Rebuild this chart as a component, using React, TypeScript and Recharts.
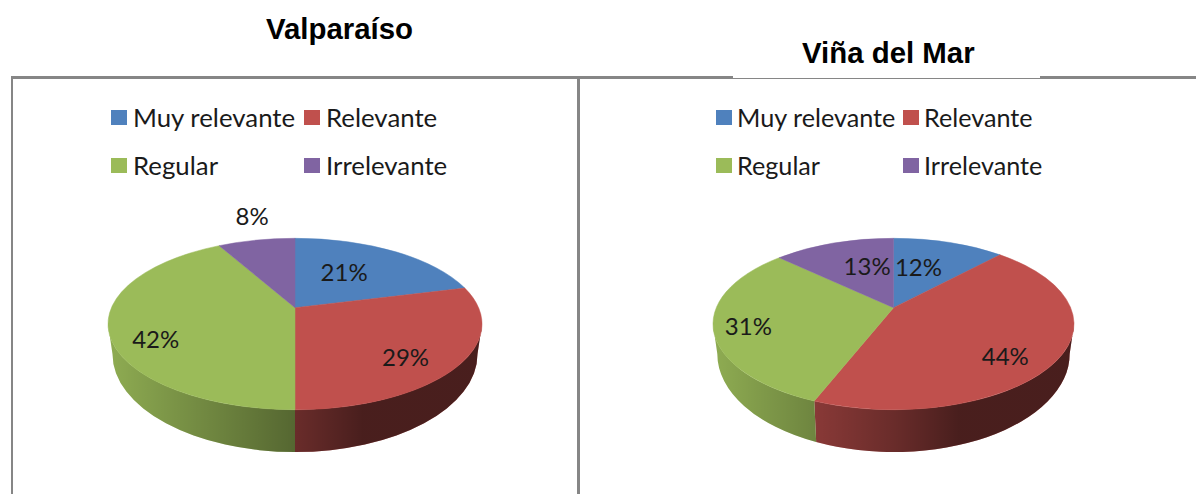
import { PieChart, Pie, Legend } from 'recharts';

const categories = ['Muy relevante', 'Relevante', 'Regular', 'Irrelevante'];
const valparaisoValues = [21, 29, 42, 8];
const vinaValues = [12, 44, 31, 13];
const colors = ['#4F81BD', '#C0504D', '#9BBB59', '#8064A2'];

// 3D look: vertical radius of the top face, apex pulled up (perspective), lower rim ellipse
const TOP_RY = 85.7;
const APEX = -0.19;
const BOTTOM_DROP = 30;
const BOTTOM_RX = 0.976;
const BOTTOM_RY = 1.144;

const rad = (d: number) => (d * Math.PI) / 180;

// point of the flat disc (u, v in -1..1, v down) -> position on the tilted ellipse
function project(u: number, v: number) {
  const d = 1 + APEX * v;
  return { x: (u * Math.sqrt(1 - APEX * APEX)) / d, y: (v + APEX) / d };
}

// clockwise degrees from the top of the flat disc -> clockwise degrees on the screen ellipse
function rimAngle(theta: number) {
  if (theta >= 359.99) return 360;
  if (theta <= 0.01) return 0;
  const p = project(Math.sin(rad(theta)), -Math.cos(rad(theta)));
  const a = (Math.atan2(p.x, -p.y) * 180) / Math.PI;
  return a < 0 ? a + 360 : a;
}

function Slice3D(props: any) {
  const { cx, cy, outerRadius, startAngle, endAngle, fill, index } = props;
  const rx = outerRadius;
  const ry = TOP_RY;
  const a0 = rimAngle(90 - startAngle);
  const a1 = rimAngle(90 - endAngle);
  const top = (a: number) => [cx + rx * Math.sin(rad(a)), cy - ry * Math.cos(rad(a))];
  const bottom = (a: number) => [
    cx + rx * BOTTOM_RX * Math.sin(rad(a)),
    cy + BOTTOM_DROP - ry * BOTTOM_RY * Math.cos(rad(a)),
  ];
  const [sx, sy] = top(a0);
  const [ex, ey] = top(a1);
  const apexY = cy + APEX * ry;
  const face = `M${cx},${apexY} L${sx},${sy} A${rx},${ry} 0 ${a1 - a0 > 180 ? 1 : 0} 1 ${ex},${ey} Z`;

  const w0 = Math.max(a0, 90);
  const w1 = Math.min(a1, 270);
  const gradId = `wall-${Math.round(cx)}-${index}`;
  let wall = null;
  if (w1 > w0) {
    const [tx0, ty0] = top(w0);
    const [tx1, ty1] = top(w1);
    const [bx0, by0] = bottom(w0);
    const [bx1, by1] = bottom(w1);
    const large = w1 - w0 > 180 ? 1 : 0;
    const d =
      `M${tx0},${ty0} A${rx},${ry} 0 ${large} 1 ${tx1},${ty1} L${bx1},${by1} ` +
      `A${rx * BOTTOM_RX},${ry * BOTTOM_RY} 0 ${large} 0 ${bx0},${by0} Z`;
    wall = (
      <>
        <defs>
          <linearGradient id={gradId} gradientUnits="userSpaceOnUse" x1={cx - rx} x2={cx + rx} y1={0} y2={0}>
            <stop offset="0" stopColor="#000" stopOpacity={0.08} />
            <stop offset="0.5" stopColor="#000" stopOpacity={0.45} />
            <stop offset="0.68" stopColor="#000" stopOpacity={0.62} />
            <stop offset="1" stopColor="#000" stopOpacity={0.62} />
          </linearGradient>
        </defs>
        <path d={d} fill={fill} />
        <path d={d} fill={`url(#${gradId})`} />
      </>
    );
  }
  return (
    <g>
      {wall}
      <path d={face} fill={fill} stroke={fill} strokeWidth={0.5} />
    </g>
  );
}

// where each percent label sits: fraction of radius along the slice, then a small nudge
const valparaisoLabels = [
  { f: 0.55, dx: -8, dy: -3 },
  { f: 0.7, dx: 0, dy: 10 },
  { f: 0.75, dx: -1, dy: 15 },
  { f: 1.2, dx: 2, dy: -14 },
];
const vinaLabels = [
  { f: 0.5, dx: -5, dy: -6 },
  { f: 0.7, dx: -1, dy: 14 },
  { f: 0.8, dx: -2, dy: 3 },
  { f: 0.5, dx: 6, dy: -7 },
];

function makeLabel(spots: { f: number; dx: number; dy: number }[]) {
  return function SliceLabel(props: any) {
    const { cx, cy, outerRadius, midAngle, index, value } = props;
    const s = spots[index];
    const theta = rad(90 - midAngle);
    const p = project(s.f * Math.sin(theta), -s.f * Math.cos(theta));
    return (
      <text
        x={cx + p.x * outerRadius + s.dx}
        y={cy + p.y * TOP_RY + s.dy}
        textAnchor="middle"
        dominantBaseline="central"
        fontFamily="Lato, sans-serif"
        fontSize={24}
        fill="#1a1a1a"
      >
        {value}%
      </text>
    );
  };
}

function makeLegend(col1: number, col2: number, textGap: number, fontSize: number) {
  return function PieLegend({ payload }: any) {
    return (
      <div style={{ position: 'relative', width: 500, height: 80, fontFamily: 'Lato, sans-serif', fontSize, color: '#1a1a1a' }}>
        {(payload || []).map((entry: any, i: number) => (
          <div
            key={entry.value}
            style={{
              position: 'absolute',
              left: i % 2 === 0 ? col1 : col2,
              top: i < 2 ? 0 : 48,
              height: 30,
              lineHeight: '30px',
              whiteSpace: 'nowrap',
            }}
          >
            <span style={{ position: 'absolute', left: 0, top: 8, width: 16, height: 15, background: entry.color }} />
            <span style={{ position: 'absolute', left: textGap, top: 0 }}>{entry.value}</span>
          </div>
        ))}
      </div>
    );
  };
}

function tableOf(values: number[]) {
  return categories.map((name, i) => ({ name, value: values[i], fill: colors[i] }));
}

function Panel({ values, left, width, cx, radius, labels, legend, legendLeft }: any) {
  const Shape = Slice3D;
  return (
    <div style={{ position: 'absolute', left, top: 79, width, height: 415 }}>
      <PieChart width={width} height={415} margin={{ top: 0, right: 0, bottom: 0, left: 0 }}>
        <Legend
          content={legend}
          itemSorter={null}
          wrapperStyle={{ left: legendLeft, top: 23, width: 500 }}
          verticalAlign="top"
          align="left"
        />
        {/* the legend reserves 80px at the top of the plot area, so cy counts from below it */}
        <Pie
          data={tableOf(values)}
          dataKey="value"
          nameKey="name"
          cx={cx}
          cy={165}
          innerRadius={0}
          outerRadius={radius}
          startAngle={90}
          endAngle={-270}
          stroke="none"
          label={makeLabel(labels)}
          labelLine={false}
          shape={Shape}
          activeShape={Shape}
          inactiveShape={Shape}
          isAnimationActive={false}
        />
      </PieChart>
    </div>
  );
}

const titleStyle = {
  position: 'absolute' as const,
  fontFamily: '"Liberation Sans", Arial, sans-serif',
  fontWeight: 700,
  fontSize: 29.4,
  color: '#000',
  lineHeight: '32px',
  whiteSpace: 'nowrap' as const,
};

export default function App() {
  return (
    <div style={{ position: 'absolute', left: 0, top: 0, width: 1196, height: 494, background: '#fff', overflow: 'hidden' }}>
      <div style={{ ...titleStyle, left: 266, top: 13 }}>Valparaíso</div>
      <div style={{ ...titleStyle, left: 802, top: 37 }}>Viña del Mar</div>

      <div style={{ position: 'absolute', left: 11, top: 76, width: 1185, height: 3, background: '#868686' }} />
      <div style={{ position: 'absolute', left: 733, top: 76, width: 307, height: 2, background: '#fff' }} />
      <div style={{ position: 'absolute', left: 11, top: 76, width: 2, height: 418, background: '#868686' }} />
      <div style={{ position: 'absolute', left: 577, top: 76, width: 3, height: 418, background: '#868686' }} />

      <Panel
        values={valparaisoValues}
        left={13}
        width={564}
        cx={282}
        radius={187}
        labels={valparaisoLabels}
        legend={makeLegend(0, 193, 22, 25.8)}
        legendLeft={98}
      />
      <Panel
        values={vinaValues}
        left={580}
        width={616}
        cx={313.5}
        radius={180.5}
        labels={vinaLabels}
        legend={makeLegend(0, 187, 21, 25.2)}
        legendLeft={136}
      />
    </div>
  );
}
